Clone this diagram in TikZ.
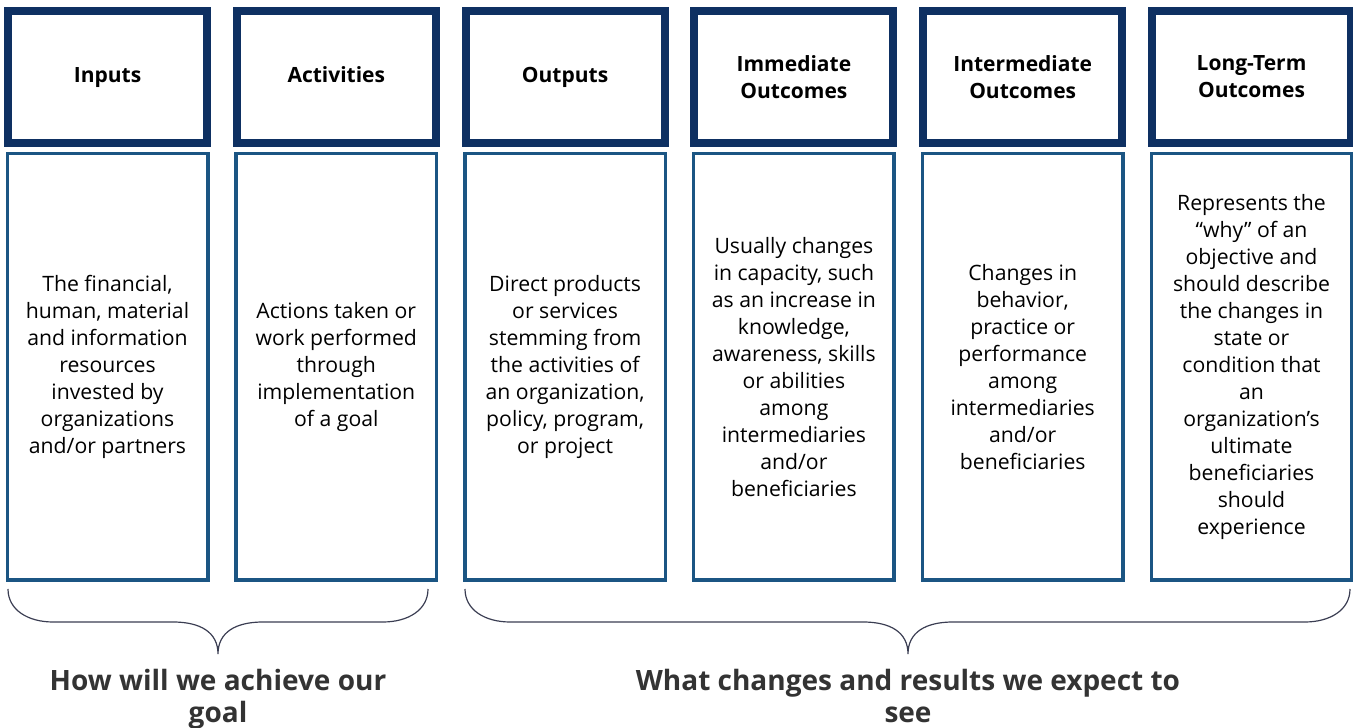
\documentclass[tikz,border=0pt]{standalone}
\usepackage{fontspec}
\setmainfont{Open Sans}
\usepackage{tikz}
\usetikzlibrary{calc}
\usepackage{xcolor}
\definecolor{blunotte}{HTML}{0E3062}
\definecolor{bluscuro}{HTML}{1B5583}
\definecolor{grafite}{HTML}{3A3D52}
\definecolor{grigiotesto}{HTML}{333333}
\tikzset{
  titolo/.style = {draw = blunotte, line width = 8pt, minimum width = 199pt, minimum height = 132pt, inner sep = 0pt, align = center, font = \fontsize{21}{27}\selectfont\bfseries},
  corpo/.style = {draw = bluscuro, line width = 3.5pt, minimum width = 200.5pt, minimum height = 426.5pt, inner sep = 0pt, align = center, font = \fontsize{21.2}{27}\selectfont},
  graffa/.style = {draw = grafite, line width = 1.2pt},
  domanda/.style = {anchor = north, inner sep = 0pt, align = center, text = grigiotesto, font = \fontsize{28}{32}\selectfont\bfseries}
}
\begin{document}
\begin{tikzpicture}[x = 1pt, y = 1pt]
    % Parametri
    \pgfmathsetmacro{\passo}{228.8}
    \pgfmathsetmacro{\xzero}{107.5}
    \pgfmathsetmacro{\ytitolo}{651}
    \pgfmathsetmacro{\ycorpo}{361}
    \useasboundingbox (0,0) rectangle (1353,728);
    % Intestazioni
    \node[titolo] (inputs) at (\xzero,\ytitolo) {\strut Inputs};
    \node[titolo] (activities) at ({\xzero+\passo},\ytitolo) {\strut Activities};
    \node[titolo] (outputs) at ({\xzero+2*\passo},\ytitolo) {\strut Outputs};
    \node[titolo] (immediate) at ({\xzero+3*\passo},\ytitolo) {Immediate\\Outcomes};
    \node[titolo] (intermediate) at ({\xzero+4*\passo},\ytitolo) {Intermediate\\Outcomes};
    \node[titolo] (longterm) at ({\xzero+5*\passo},\ytitolo) {Long-Term\\Outcomes};
    % Descrizioni
    \node[corpo] (inputsTxt) at (\xzero,\ycorpo) {The financial,\\human, material\\and information\\resources\\invested by\\organizations\\and/or partners};
    \node[corpo] (activitiesTxt) at ({\xzero+\passo},\ycorpo) {Actions taken or\\work performed\\through\\implementation\\of a goal};
    \node[corpo] (outputsTxt) at ({\xzero+2*\passo},\ycorpo) {Direct products\\or services\\stemming from\\the activities of\\an organization,\\policy, program,\\or project};
    \node[corpo] (immediateTxt) at ({\xzero+3*\passo},\ycorpo) {Usually changes\\in capacity, such\\as an increase in\\knowledge,\\awareness, skills\\or abilities\\among\\intermediaries\\and/or\\beneficiaries};
    \node[corpo] (intermediateTxt) at ({\xzero+4*\passo},\ycorpo) {Changes in\\behavior,\\practice or\\performance\\among\\intermediaries\\and/or\\beneficiaries};
    \node[corpo] (longtermTxt) at ({\xzero+5*\passo},\ycorpo) {Represents the\\“why” of an\\objective and\\should describe\\the changes in\\state or\\condition that\\an\\organization’s\\ultimate\\beneficiaries\\should\\experience};
    % Graffe
    \draw[graffa] (8,139) .. controls (8,118) and (28,106) .. (53,106) -- (173,106) .. controls (200,106) and (218,96) .. (218,74) .. controls (218,96) and (236,106) .. (263,106) -- (383,106) .. controls (408,106) and (428,118) .. (428,139);
    \draw[graffa] (465,139) .. controls (465,118) and (485,106) .. (510,106) -- (863,106) .. controls (890,106) and (908,96) .. (908,74) .. controls (908,96) and (926,106) .. (953,106) -- (1305,106) .. controls (1330,106) and (1350,118) .. (1350,139);
    % Domande
    \node[domanda] (come) at (218,59) {How will we achieve our\\goal};
    \node[domanda] (cosa) at (908,59) {What changes and results we expect to\\see};
\end{tikzpicture}
\end{document}
